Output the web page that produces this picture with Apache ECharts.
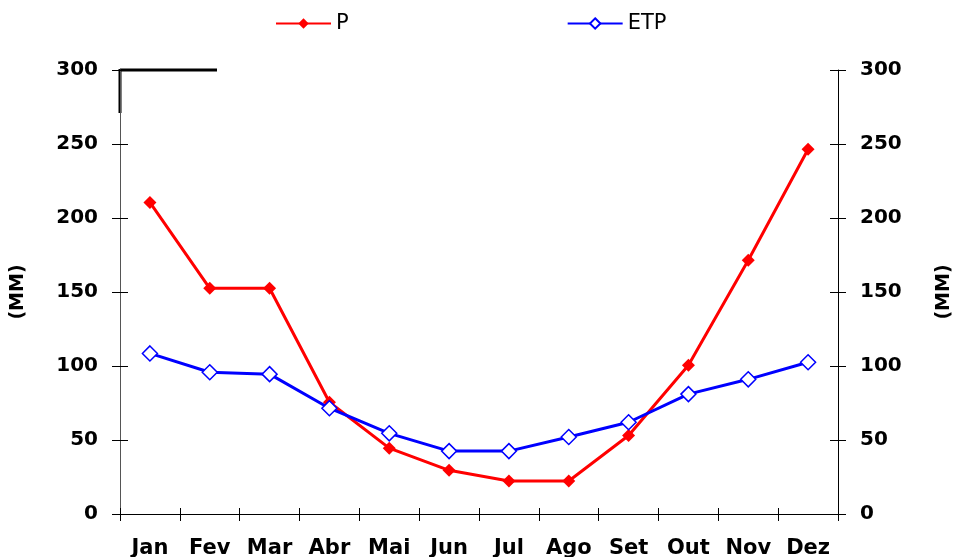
<!DOCTYPE html>
<html><head><meta charset="utf-8">
<script src="https://cdn.jsdelivr.net/npm/echarts@6/dist/echarts.min.js"></script>
<style>html,body{margin:0;padding:0;background:#fff}#c{width:961px;height:557px}</style>
</head><body><div id="c"></div>
<script>
var months = ['Jan','Fev','Mar','Abr','Mai','Jun','Jul','Ago','Set','Out','Nov','Dez'];
var P = [210.5, 152.5, 152.5, 75.5, 44.5, 29.5, 22.3, 22.3, 53, 100.5, 171.5, 246.5];
var ETP = [108.5, 95.8, 94.5, 71.5, 54.5, 42.5, 42.5, 52, 62, 81, 91, 102.5];
var yTicks = {min: 0, max: 300, interval: 50};

var chart = echarts.init(document.getElementById('c'));
var FONT = 'DejaVu Sans';
var lbl = {fontFamily: FONT, fontWeight: 'bold', fontSize: 20, color: '#000'};
function yAx(pos, inside, show) {
  return {
    type: 'value', position: pos, min: yTicks.min, max: yTicks.max, interval: yTicks.interval,
    name: show ? '(MM)' : '', nameLocation: 'middle', nameRotate: 90,
    nameGap: pos === 'left' ? 92 : 97,
    nameTextStyle: {fontFamily: FONT, fontWeight: 'bold', fontSize: 19, color: '#000'},
    axisLine: {show: show, lineStyle: {color: pos === 'left' ? '#555' : '#000', width: 1}},
    axisTick: {show: true, inside: inside, length: 8, lineStyle: {color: '#000', width: 1}},
    axisLabel: Object.assign({show: show, margin: 22}, lbl),
    splitLine: {show: false}
  };
}
chart.setOption({
  animation: false,
  backgroundColor: '#fff',
  grid: {left: 120, right: 123, top: 70, bottom: 43, containLabel: false, outerBoundsMode: 'none'},
  legend: {
    top: 8, left: 270, itemGap: 218, itemWidth: 55, itemHeight: 13,
    textStyle: {fontFamily: FONT, fontSize: 21, color: '#000'},
    data: ['P', 'ETP']
  },
  xAxis: [{
    type: 'category', data: months, boundaryGap: true,
    axisLine: {lineStyle: {color: '#000', width: 1}},
    axisTick: {show: true, length: 7, lineStyle: {color: '#000'}},
    axisLabel: Object.assign({margin: 24, interval: 0}, lbl, {fontSize: 21})
  }, {
    type: 'category', data: months, boundaryGap: true, position: 'bottom',
    axisLine: {show: false},
    axisTick: {show: true, inside: true, length: 6, lineStyle: {color: '#000'}},
    axisLabel: {show: false}
  }],
  yAxis: [yAx('left', false, true), yAx('left', true, false), yAx('right', false, true), yAx('right', true, false)],
  graphic: [
    {type: 'line', shape: {x1: 120, y1: 70, x2: 217, y2: 70}, style: {stroke: '#000', lineWidth: 3}},
    {type: 'line', shape: {x1: 120, y1: 69, x2: 120, y2: 113}, style: {stroke: '#000', lineWidth: 3}}
  ],
  series: [{
    name: 'P', type: 'line', data: P, symbol: 'diamond', symbolSize: 13,
    lineStyle: {color: '#ff0000', width: 3}, itemStyle: {color: '#ff0000'}
  }, {
    name: 'ETP', type: 'line', data: ETP, symbol: 'diamond', symbolSize: 15,
    lineStyle: {color: '#0000ff', width: 3},
    itemStyle: {color: '#fff', borderColor: '#0000ff', borderWidth: 1.5}
  }]
});
</script></body></html>
